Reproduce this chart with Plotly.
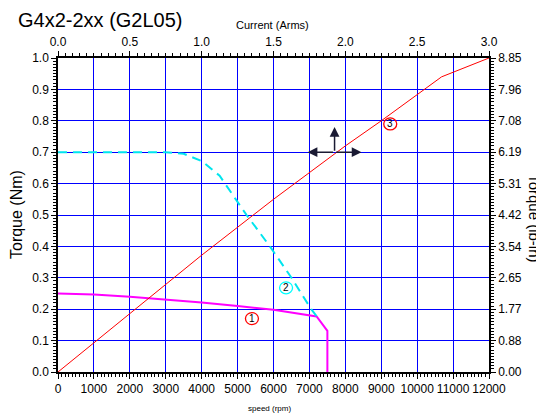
import plotly.graph_objects as go

# ---- data ----
speed_cont = [0, 1000, 2000, 3000, 4000, 5000, 6000, 7200, 7500, 7500]
torque_cont = [0.25, 0.247, 0.24, 0.231, 0.221, 0.21, 0.198, 0.177, 0.131, 0.0]

speed_peak = [0, 1000, 2000, 3000, 3500, 4000, 4500, 4650, 5000, 5250, 5900, 6500, 7050, 7200]
torque_peak = [0.7, 0.7, 0.7, 0.7, 0.695, 0.672, 0.625, 0.6, 0.54, 0.5, 0.4, 0.3, 0.2, 0.178]

current = [0, 1.0, 1.5, 2.0, 2.25, 2.5, 2.67, 3.0]
torque_current = [0, 0.372, 0.55, 0.72, 0.80, 0.885, 0.94, 1.0]

nm_ticks = [0.0, 0.1, 0.2, 0.3, 0.4, 0.5, 0.6, 0.7, 0.8, 0.9, 1.0]
lbin_labels = ["0.00", "0.88", "1.77", "2.65", "3.54", "4.42", "5.31", "6.19", "7.08", "7.96", "8.85"]
NM_TO_LBIN = 8.85

labels = [("1", 5400, 0.17, "red"), ("2", 6350, 0.268, "cyan"), ("3", 9250, 0.79, "red")]

FONT = "Liberation Sans, Arial, sans-serif"

fig = go.Figure()
fig.add_trace(go.Scatter(x=speed_cont, y=torque_cont, mode="lines",
                         line=dict(color="#ff00ff", width=2), xaxis="x", yaxis="y"))
fig.add_trace(go.Scatter(x=speed_peak, y=torque_peak, mode="lines",
                         line=dict(color="#00e5ee", width=2, dash="9px,6px"), xaxis="x", yaxis="y"))
fig.add_trace(go.Scatter(x=current, y=torque_current, mode="lines",
                         line=dict(color="#ff0000", width=1), xaxis="x2", yaxis="y"))
# invisible trace to anchor the right axis
fig.add_trace(go.Scatter(x=[0], y=[0], mode="markers", marker=dict(opacity=0),
                         xaxis="x", yaxis="y2", hoverinfo="skip"))

axis_common = dict(showline=True, linecolor="black", linewidth=1.5, ticks="outside",
                   tickcolor="black", zeroline=False, automargin=False,
                   tickfont=dict(family=FONT, size=12, color="black"))

# page body has an 8px margin, so the figure is sized/offset to compensate
fig.update_layout(
    width=536, height=410,
    margin=dict(l=50, r=55, t=50, b=46, autoexpand=False),
    paper_bgcolor="white", plot_bgcolor="white",
    showlegend=False,
    font=dict(family=FONT, color="black"),
    xaxis=dict(range=[0, 12000], dtick=1000, tick0=0, tickformat="d", side="bottom",
               showgrid=True, gridcolor="#0000ff", gridwidth=1, ticklen=5, tickwidth=1,
               minor=dict(dtick=100, ticks="outside", ticklen=3, tickcolor="black", showgrid=False),
               **axis_common),
    xaxis2=dict(range=[0, 3], dtick=0.5, tick0=0, tickformat=".1f", side="top", overlaying="x",
                anchor="y", showgrid=False, ticklen=5, tickwidth=1,
                minor=dict(dtick=0.05, ticks="outside", ticklen=3, tickcolor="black", showgrid=False),
                **axis_common),
    yaxis=dict(range=[0, 1], tickvals=nm_ticks, tickformat=".1f",
               showgrid=True, gridcolor="#0000ff", gridwidth=1, ticklen=5, tickwidth=1,
               minor=dict(dtick=0.01, ticks="outside", ticklen=3, tickcolor="black", showgrid=False),
               **axis_common),
    yaxis2=dict(range=[0, NM_TO_LBIN], tickvals=[v * NM_TO_LBIN for v in nm_ticks],
                ticktext=lbin_labels, side="right", overlaying="y", anchor="x",
                showgrid=False, ticklen=5, tickwidth=1,
                minor=dict(dtick=NM_TO_LBIN / 100, ticks="outside", ticklen=3, tickcolor="black", showgrid=False),
                **axis_common),
)

ann = []
ann.append(dict(text="G4x2-2xx (G2L05)", xref="paper", yref="paper", x=0.0, xshift=-42, y=1.0,
                yshift=38, xanchor="left", yanchor="middle", showarrow=False,
                font=dict(family=FONT, size=20, color="black")))
ann.append(dict(text="Current (Arms)", xref="paper", yref="paper", x=0.497, y=1.0, yshift=33,
                xanchor="center", yanchor="middle", showarrow=False,
                font=dict(family=FONT, size=11, color="black")))
ann.append(dict(text="speed (rpm)", xref="paper", yref="paper", x=0.49, y=0.0, yshift=-36,
                xanchor="center", yanchor="middle", showarrow=False,
                font=dict(family=FONT, size=8, color="black")))
ann.append(dict(text="Torque (Nm)", xref="paper", yref="paper", x=0.0, xshift=-42, y=0.5,
                xanchor="center", yanchor="middle", textangle=-90, showarrow=False,
                font=dict(family=FONT, size=16, color="black")))
ann.append(dict(text="Torque (lb-in)", xref="paper", yref="paper", x=1.0, xshift=46, y=0.49,
                xanchor="center", yanchor="middle", textangle=90, showarrow=False,
                font=dict(family=FONT, size=15, color="black")))

# direction arrows
cx, cy = 7700, 0.7
arrow_col = "#1a1a33"
for tx, ty in [(6950, 0.7), (8450, 0.7), (7700, 0.78)]:
    ann.append(dict(x=tx, y=ty, ax=cx, ay=cy, xref="x", yref="y", axref="x", ayref="y",
                    showarrow=True, arrowhead=2, arrowsize=1.3, arrowwidth=1.5, arrowcolor=arrow_col, text=""))

shapes = []
for txt, lx, ly, col in labels:
    ann.append(dict(text=txt, x=lx, y=ly, xref="x", yref="y", showarrow=False,
                    font=dict(family=FONT, size=10, color="black")))
    shapes.append(dict(type="circle", xref="x", yref="y", xsizemode="pixel", ysizemode="pixel",
                       xanchor=lx, yanchor=ly, x0=-6.5, x1=6.5, y0=-6, y1=6,
                       line=dict(color=col, width=1.3), fillcolor="rgba(0,0,0,0)"))

fig.update_layout(annotations=ann, shapes=shapes)
fig.write_html("out.html")
